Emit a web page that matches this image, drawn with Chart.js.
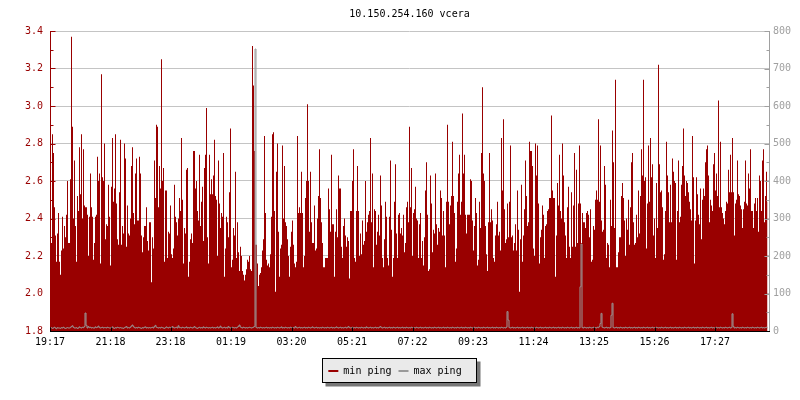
<!DOCTYPE html>
<html>
<head>
<meta charset="utf-8">
<title>10.150.254.160 vcera</title>
<script src="https://cdn.jsdelivr.net/npm/chart.js@4"></script>
<style>
  html, body { margin: 0; padding: 0; background: #fff; }
</style>
</head>
<body>
<canvas id="pingChart" width="800" height="400"></canvas>
<script>
// min ping (ms), one sample every 2 minutes from 19:17
const minPing = [
  2.19, 2.27, 2.85, 2.75, 2.46, 2.31, 2.17, 2.32, 2.43, 2.17, 2.10, 2.23, 2.41, 2.24, 2.36, 2.30, 2.42, 2.60, 2.27, 2.27,
  2.61, 3.37, 2.89, 2.40, 2.71, 2.36, 2.17, 2.52, 2.44, 2.78, 2.53, 2.85, 2.40, 2.77, 2.47, 2.46, 2.46, 2.42, 2.20, 2.41,
  2.64, 2.46, 2.41, 2.18, 2.27, 2.41, 2.42, 2.73, 2.60, 2.64, 2.16, 3.17, 2.62, 2.60, 2.80, 2.29, 2.37, 2.36, 2.58, 2.41,
  2.15, 2.57, 2.83, 2.49, 2.56, 2.85, 2.48, 2.29, 2.26, 2.54, 2.82, 2.26, 2.36, 2.32, 2.80, 2.72, 2.25, 2.47, 2.32, 2.31,
  2.40, 2.68, 2.78, 2.43, 2.37, 2.64, 2.72, 2.39, 2.39, 2.73, 2.64, 2.31, 2.22, 2.30, 2.36, 2.36, 2.46, 2.28, 2.23, 2.38,
  2.38, 2.06, 2.30, 2.24, 2.71, 2.51, 2.90, 2.89, 2.46, 2.68, 2.56, 3.25, 2.60, 2.67, 2.17, 2.55, 2.55, 2.19, 2.33, 2.32,
  2.47, 2.21, 2.19, 2.24, 2.58, 2.41, 2.38, 2.31, 2.40, 2.51, 2.44, 2.83, 2.50, 2.16, 2.35, 2.32, 2.66, 2.67, 2.09, 2.17,
  2.29, 2.32, 2.27, 2.76, 2.76, 2.56, 2.60, 2.44, 2.39, 2.74, 2.36, 2.49, 2.57, 2.28, 2.67, 2.74, 2.99, 2.30, 2.16, 2.74,
  2.53, 2.61, 2.53, 2.63, 2.82, 2.52, 2.50, 2.20, 2.71, 2.48, 2.35, 2.43, 2.41, 2.75, 2.09, 2.24, 2.41, 2.38, 2.30,
  // 01:19 area
  2.54, 2.88, 2.14, 2.18, 2.35, 2.31, 2.65, 2.19, 2.38, 2.22, 2.12, 2.25, 2.20, 2.12, 2.10, 2.07, 2.10, 2.13, 2.18, 2.17,
  2.20, 2.13, 2.12, 3.32, 3.11, 2.76, 2.26, 2.26, 2.16, 2.04, 2.10, 2.11, 2.14, 2.23, 2.29, 2.84, 2.43, 2.18, 2.15, 2.16,
  2.14, 2.21, 2.41, 2.85, 2.86, 2.44, 2.01, 2.65, 2.80, 2.33, 2.09, 2.24, 2.26, 2.79, 2.40, 2.68, 2.38, 2.36, 2.29, 2.20,
  2.09, 2.25, 2.33, 2.39, 2.26, 2.16, 2.14, 2.17, 2.84, 2.43, 2.46, 2.43, 2.65, 2.43, 2.14, 2.20, 2.51, 2.60, 3.01, 2.60,
  2.33, 2.65, 2.38, 2.27, 2.27, 2.47, 2.23, 2.24, 2.40, 2.52, 2.77, 2.51, 2.38, 2.27, 2.14, 2.14, 2.19, 2.19, 2.19, 2.56,
  2.45, 2.33, 2.74, 2.37, 2.37, 2.09, 2.33, 2.45, 2.30, 2.63, 2.56, 2.56, 2.25, 2.19, 2.36, 2.40, 2.31, 2.25, 2.30, 2.28,
  2.08, 2.44, 2.44, 2.60, 2.77, 2.19, 2.17, 2.44, 2.68, 2.44, 2.20, 2.32, 2.21, 2.39, 2.26, 2.28, 2.60, 2.33, 2.38, 2.42,
  2.44, 2.83, 2.38, 2.64, 2.14, 2.45, 2.44, 2.26, 2.33, 2.42, 2.31, 2.63, 2.47, 2.19, 2.14, 2.29, 2.49, 2.41, 2.19, 2.15,
  2.41, 2.71, 2.34, 2.09, 2.19, 2.49, 2.69, 2.32, 2.19, 2.42, 2.43, 2.32, 2.35, 2.31, 2.42, 2.22, 2.27, 2.46, 2.49, 2.38,
  // 07:22 area
  2.89, 2.46, 2.67, 2.20, 2.43, 2.45, 2.57, 2.40, 2.39, 2.19, 2.37, 2.43, 2.19, 2.28, 2.15, 2.30, 2.55, 2.70, 2.42, 2.12,
  2.13, 2.63, 2.48, 2.22, 2.34, 2.32, 2.64, 2.37, 2.26, 2.35, 2.33, 2.55, 2.51, 2.31, 2.44, 2.31, 2.14, 2.49, 2.90, 2.49,
  2.37, 2.47, 2.52, 2.81, 2.52, 2.43, 2.17, 2.24, 2.49, 2.64, 2.74, 2.42, 2.49, 2.96, 2.64, 2.74, 2.42, 2.32, 2.42, 2.42,
  2.42, 2.61, 2.60, 2.39, 2.23, 2.36, 2.51, 2.43, 2.15, 2.18, 2.49, 2.35, 2.75, 3.10, 2.64, 2.60, 2.36, 2.21, 2.12, 2.38,
  2.75, 2.38, 2.45, 2.39, 2.19, 2.17, 2.31, 2.37, 2.49, 2.31, 2.33, 2.23, 2.83, 2.55, 2.93, 2.45, 2.27, 2.29, 2.48, 2.30,
  2.49, 2.79, 2.30, 2.31, 2.23, 2.27, 2.37, 2.23, 2.55, 2.34, 2.01, 2.29, 2.58, 2.17, 2.31, 2.45, 2.71, 2.52, 2.36, 2.38,
  2.81, 2.76, 2.76, 2.68, 2.24, 2.20, 2.80, 2.63, 2.79, 2.48, 2.16, 2.30, 2.34, 2.47, 2.42, 2.19, 2.36, 2.37, 2.44, 2.45,
  2.51, 2.51, 2.95, 2.55, 2.51, 2.51, 2.09, 2.31, 2.59, 2.47, 2.74, 2.44, 2.40, 2.80, 2.63, 2.38, 2.31, 2.19, 2.46, 2.57,
  2.25, 2.19, 2.54, 2.25, 2.47, 2.75, 2.25, 2.66, 2.27, 2.48, 2.79, 2.48, 2.27, 2.43, 2.38, 2.38, 2.35, 2.43, 2.44, 2.42,
  // 13:25 area
  2.30, 2.45, 2.17, 2.18, 2.36, 2.34, 2.50, 2.55, 2.50, 2.93, 2.49, 2.79, 2.39, 2.33, 2.34, 2.68, 2.58, 2.19, 2.27, 2.26,
  2.14, 2.50, 2.36, 2.87, 2.70, 2.35, 3.14, 2.14, 2.14, 2.22, 2.30, 2.30, 2.52, 2.59, 2.51, 2.39, 2.20, 2.40, 2.34, 2.50,
  2.26, 2.46, 2.70, 2.75, 2.38, 2.26, 2.27, 2.42, 2.30, 2.55, 2.32, 2.52, 2.77, 2.63, 3.14, 2.60, 2.62, 2.24, 2.48, 2.79,
  2.49, 2.83, 2.62, 2.69, 2.31, 2.40, 2.19, 2.59, 2.35, 3.22, 2.69, 2.54, 2.55, 2.46, 2.18, 2.21, 2.44, 2.81, 2.63, 2.54,
  2.38, 2.58, 2.38, 2.72, 2.65, 2.60, 2.59, 2.18, 2.44, 2.71, 2.38, 2.41, 2.58, 2.68, 2.88, 2.63, 2.52, 2.60, 2.59, 2.54,
  2.49, 2.45, 2.39, 2.84, 2.62, 2.16, 2.39, 2.62, 2.53, 2.42, 2.37, 2.56, 2.29, 2.50, 2.56, 2.52, 2.70, 2.77, 2.79, 2.63,
  2.38, 2.50, 2.47, 2.44, 2.69, 2.75, 2.55, 2.64, 2.52, 3.03, 2.46, 2.81, 2.46, 2.43, 2.40, 2.37, 2.44, 2.49, 2.48, 2.66,
  2.54, 2.74, 2.54, 2.83, 2.54, 2.31, 2.48, 2.50, 2.71, 2.53, 2.52, 2.47, 2.45, 2.35, 2.45, 2.49, 2.71, 2.48, 2.47, 2.64,
  2.56, 2.77, 2.44, 2.44, 2.35, 2.48, 2.51, 2.44, 2.51, 2.33, 2.63, 2.60, 2.44, 2.71, 2.77, 2.38, 2.52, 2.65, 2.49
];

// max ping (ms), same samples
const maxPing = [
  8, 9, 7, 8, 10, 8, 6, 9, 8, 8, 7, 9, 8, 10, 8, 7, 8, 9, 8, 8,
  9, 12, 14, 10, 8, 8, 9, 7, 8, 11, 9, 8, 10, 9, 12, 48, 15, 8, 12, 9,
  10, 8, 9, 8, 8, 11, 9, 10, 13, 9, 8, 9, 10, 8, 9, 9, 8, 10, 9, 8,
  8, 9, 11, 8, 7, 9, 8, 10, 9, 8, 9, 8, 8, 7, 9, 10, 12, 8, 9, 8,
  10, 13, 16, 12, 9, 8, 9, 8, 10, 9, 8, 7, 9, 8, 10, 11, 8, 9, 8, 9,
  8, 9, 10, 8, 12, 15, 10, 9, 8, 9, 8, 10, 9, 8, 7, 9, 11, 9, 8, 10,
  9, 8, 12, 9, 8, 9, 10, 8, 14, 9, 9, 8, 10, 9, 8, 9, 11, 8, 9, 8,
  10, 9, 8, 9, 12, 9, 8, 7, 9, 10, 8, 9, 8, 11, 9, 8, 10, 9, 8, 9,
  8, 9, 10, 8, 9, 8, 9, 11, 8, 9, 13, 9, 8, 9, 10, 8, 9, 8, 12, 9,
  8, 9, 10, 9, 8, 9, 8, 10, 12, 16, 11, 9, 8, 10, 9, 8, 9, 8, 9, 10,
  9, 8, 9, 10, 12, 752, 9, 8, 9, 8, 10, 9, 8, 9, 8, 9, 10, 8, 9, 8,
  9, 8, 10, 9, 8, 9, 8, 10, 9, 8, 9, 11, 8, 9, 8, 10, 9, 8, 9, 8,
  10, 9, 8, 9, 8, 12, 9, 8, 9, 10, 8, 9, 8, 9, 10, 8, 9, 8, 10, 9,
  8, 9, 11, 9, 8, 9, 10, 8, 9, 8, 9, 8, 10, 9, 8, 9, 8, 10, 9, 8,
  9, 10, 8, 9, 8, 9, 11, 9, 8, 9, 10, 8, 9, 8, 9, 10, 8, 9, 12, 9,
  8, 9, 10, 8, 9, 8, 10, 9, 8, 9, 8, 10, 9, 8, 9, 8, 11, 9, 8, 9,
  10, 8, 9, 8, 9, 10, 8, 9, 8, 10, 12, 9, 8, 9, 10, 8, 9, 8, 9, 10,
  8, 9, 8, 10, 9, 8, 9, 10, 8, 9, 8, 9, 10, 8, 9, 8, 10, 9, 8, 9,
  8, 10, 9, 8, 9, 8, 10, 9, 8, 9, 10, 8, 9, 8, 9, 10, 8, 9, 8, 10,
  9, 8, 9, 8, 10, 9, 8, 9, 10, 8, 9, 8, 9, 10, 8, 9, 8, 10, 9, 8,
  9, 8, 10, 9, 8, 9, 8, 10, 9, 8, 9, 10, 8, 9, 8, 10, 9, 8, 9, 8,
  10, 9, 8, 9, 10, 8, 9, 8, 10, 9, 8, 9, 8, 10, 9, 8, 9, 10, 8, 9,
  8, 9, 10, 8, 9, 8, 10, 9, 8, 9, 8, 10, 9, 8, 9, 8, 10, 52, 29, 9,
  8, 9, 10, 8, 9, 8, 9, 10, 8, 9, 8, 9, 10, 8, 9, 8, 9, 10, 8, 9,
  8, 10, 9, 8, 9, 8, 10, 9, 8, 9, 10, 8, 9, 8, 9, 10, 8, 9, 8, 10,
  9, 8, 9, 10, 8, 9, 8, 9, 10, 8, 9, 8, 10, 9, 8, 9, 8, 10, 9, 8,
  9, 10, 8, 9, 8, 9, 10, 8, 9, 8, 118, 232, 9, 8, 10, 9, 8, 9, 8, 10,
  9, 8, 9, 10, 8, 9, 8, 10, 9, 12, 20, 47, 10, 9, 8, 9, 10, 8, 9, 8,
  9, 42, 74, 9, 8, 9, 10, 8, 9, 8, 10, 9, 8, 9, 8, 10, 9, 8, 9, 10,
  8, 9, 8, 9, 10, 8, 9, 8, 10, 9, 8, 9, 8, 10, 9, 8, 9, 10, 8, 9,
  8, 9, 10, 8, 9, 8, 10, 9, 8, 9, 8, 10, 9, 8, 9, 10, 8, 9, 8, 9,
  10, 8, 9, 8, 9, 10, 8, 9, 8, 10, 9, 8, 9, 8, 10, 9, 8, 9, 10, 8,
  9, 8, 9, 10, 8, 9, 8, 10, 9, 8, 9, 8, 10, 9, 8, 9, 10, 8, 9, 8,
  9, 10, 8, 9, 8, 9, 10, 8, 9, 8, 10, 9, 8, 9, 8, 10, 9, 8, 9, 10,
  8, 9, 46, 12, 8, 9, 8, 10, 9, 8, 9, 8, 10, 9, 8, 9, 8, 10, 9, 8,
  9, 8, 10, 9, 8, 9, 8, 10, 9, 8, 9, 10, 8, 9, 8, 9, 10, 8
];

const xTickLabels = ['19:17', '21:18', '23:18', '01:19', '03:20', '05:21',
                     '07:22', '09:23', '11:24', '13:25', '15:26', '17:27'];
const sampleMinutes = 2;

const RED = '#990000';
const GRAY = '#999999';

// minutes after the first label, wrapping over midnight
function minutesFromStart(label) {
    const [h, m] = label.split(':').map(Number);
    const [h0, m0] = xTickLabels[0].split(':').map(Number);
    return ((h * 60 + m) - (h0 * 60 + m0) + 1440) % 1440;
}

const xTickMinutes = xTickLabels.map(minutesFromStart);
// one extra sample slot so that every sample is exactly one pixel wide
const xMax = (minPing.length + 1) * sampleMinutes;

function toPoints(values) {
    return values.map((v, i) => ({ x: (i + 0.5) * sampleMinutes, y: v }));
}

function isMajorLeft(v) {
    return Math.round(v * 10) % 2 === 0;
}

// legend frame with shadow, inward tick marks and axis lines
const rrdFrame = {
    id: 'rrdFrame',
    afterLayout(chart) {
        // the legend sits a little left of centre in the original
        if (chart.legend) {
            chart.legend.left -= 5;
            chart.legend.right -= 5;
        }
    },
    beforeDraw(chart) {
        const ctx = chart.ctx;
        ctx.save();
        ctx.fillStyle = '#ffffff';
        ctx.fillRect(0, 0, chart.width, chart.height);
        const boxes = chart.legend && chart.legend.legendHitBoxes;
        if (boxes && boxes.length) {
            const first = boxes[0];
            const last = boxes[boxes.length - 1];
            const x0 = Math.round(first.left) - 5.5;
            const y0 = Math.round(first.top) - 7.5;
            const w = Math.round(last.left + last.width - first.left) + 21;
            const h = Math.round(first.height) + 14;
            ctx.fillStyle = '#777777';
            ctx.fillRect(x0 + 3, y0 + 3, w + 1, h + 1);
            ctx.fillStyle = '#eaeaea';
            ctx.fillRect(x0, y0, w, h);
            ctx.strokeStyle = '#000000';
            ctx.lineWidth = 1;
            ctx.strokeRect(x0, y0, w, h);
        }
        ctx.restore();
    },
    afterDatasetsDraw(chart) {
        const { ctx, chartArea: a, scales } = chart;
        const left = a.left + 0.5, right = a.right + 0.5, bottom = a.bottom + 0.5;
        ctx.save();
        ctx.lineWidth = 1;

        ctx.strokeStyle = RED;
        ctx.beginPath();
        ctx.moveTo(left, a.top);
        ctx.lineTo(left, a.bottom);
        scales.y.ticks.forEach(t => {
            const py = Math.round(scales.y.getPixelForValue(t.value)) + 0.5;
            ctx.moveTo(left, py);
            ctx.lineTo(left + (isMajorLeft(t.value) ? 5 : 3), py);
        });
        ctx.stroke();

        ctx.strokeStyle = '#a0a0a0';
        ctx.beginPath();
        ctx.moveTo(right, a.top);
        ctx.lineTo(right, a.bottom);
        scales.y2.ticks.forEach(t => {
            const py = Math.round(scales.y2.getPixelForValue(t.value)) + 0.5;
            ctx.moveTo(right, py);
            ctx.lineTo(right - (t.value % 100 === 0 ? 5 : 3), py);
        });
        ctx.stroke();

        ctx.strokeStyle = '#000000';
        ctx.beginPath();
        ctx.moveTo(a.left, bottom);
        ctx.lineTo(a.right + 1, bottom);
        xTickMinutes.forEach(m => {
            const px = Math.round(scales.x.getPixelForValue(m)) + 0.5;
            ctx.moveTo(px, bottom);
            ctx.lineTo(px, bottom - 4);
        });
        ctx.stroke();
        ctx.restore();
    }
};

Chart.defaults.font.family = "'DejaVu Sans Mono', monospace";
Chart.defaults.font.size = 10;
Chart.defaults.color = '#000000';

const ctx = document.getElementById('pingChart').getContext('2d');
window.pingChart = new Chart(ctx, {
    type: 'line',
    data: {
        datasets: [
            {
                label: 'min ping',
                data: toPoints(minPing),
                yAxisID: 'y',
                borderColor: 'rgba(0,0,0,0)',
                backgroundColor: RED,
                borderWidth: 1,
                pointRadius: 0,
                stepped: 'middle',
                fill: 'start',
                order: 2
            },
            {
                label: 'max ping',
                data: toPoints(maxPing),
                yAxisID: 'y2',
                borderColor: GRAY,
                backgroundColor: GRAY,
                borderWidth: 1,
                pointRadius: 0,
                stepped: 'middle',
                fill: false,
                order: 1
            }
        ]
    },
    options: {
        responsive: false,
        animation: false,
        events: [],
        layout: { padding: { bottom: 14 } },
        scales: {
            x: {
                type: 'linear',
                min: 0,
                max: xMax,
                afterBuildTicks(scale) {
                    scale.ticks = xTickMinutes.map(v => ({ value: v }));
                },
                afterFit(scale) { scale.height = 28; },
                grid: { display: false, drawTicks: false },
                border: { display: false },
                ticks: {
                    autoSkip: false,
                    maxRotation: 0,
                    padding: 5,
                    color: '#000000',
                    callback: (v, i) => xTickLabels[i]
                }
            },
            y: {
                position: 'left',
                min: 1.8,
                max: 3.4,
                afterFit(scale) { scale.width = 50; },
                grid: {
                    drawTicks: false,
                    color: c => (c.tick && isMajorLeft(c.tick.value)) ? '#c4c4c4' : 'rgba(0,0,0,0)'
                },
                border: { display: false },
                ticks: {
                    stepSize: 0.1,
                    autoSkip: false,
                    padding: 7,
                    color: RED,
                    callback: v => isMajorLeft(v) ? v.toFixed(1) : ''
                }
            },
            y2: {
                position: 'right',
                min: 0,
                max: 800,
                afterFit(scale) { scale.width = 31; },
                grid: { display: false, drawTicks: false },
                border: { display: false },
                ticks: {
                    stepSize: 50,
                    autoSkip: false,
                    padding: 4,
                    color: '#a0a0a0',
                    callback: v => v % 100 === 0 ? String(v) : ''
                }
            }
        },
        plugins: {
            title: {
                display: true,
                text: '10.150.254.160 vcera',
                color: '#000000',
                fullSize: false,
                font: { size: 10, weight: 'normal' },
                padding: { top: 8, bottom: 11 }
            },
            legend: {
                position: 'bottom',
                labels: {
                    usePointStyle: true,
                    pointStyle: 'line',
                    pointStyleWidth: 10,
                    boxHeight: 10,
                    padding: 7,
                    color: '#000000',
                    font: { size: 10 },
                    generateLabels(chart) {
                        const items = Chart.defaults.plugins.legend.labels.generateLabels(chart);
                        items.sort((p, q) => p.datasetIndex - q.datasetIndex);
                        items.forEach(it => {
                            it.lineWidth = 2;
                            it.strokeStyle = chart.data.datasets[it.datasetIndex].backgroundColor;
                        });
                        return items;
                    }
                }
            },
            tooltip: { enabled: false }
        }
    },
    plugins: [rrdFrame]
});
</script>
</body>
</html>
